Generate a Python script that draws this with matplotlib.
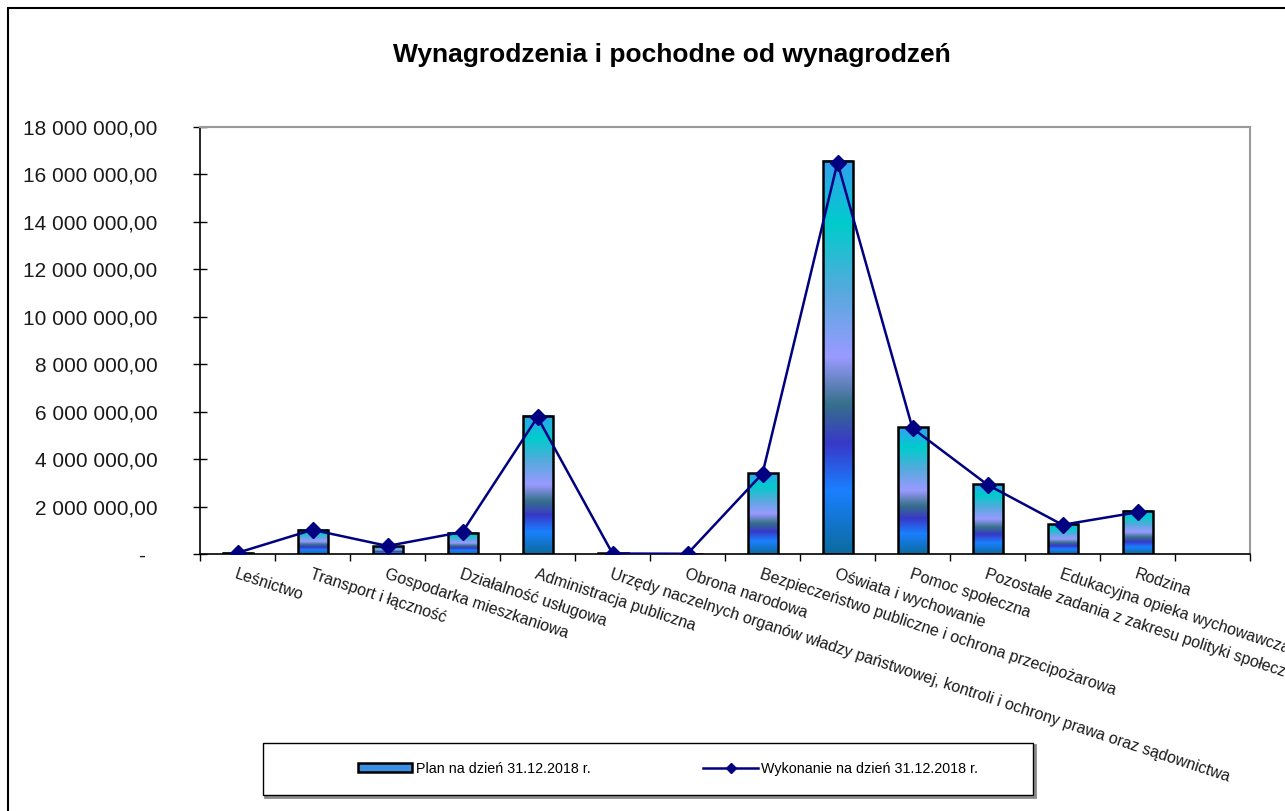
import numpy as np
import matplotlib
matplotlib.use("Agg")
import matplotlib.pyplot as plt
from matplotlib.colors import LinearSegmentedColormap
from matplotlib.patches import Rectangle, Patch
from matplotlib.lines import Line2D

plt.rcParams["font.family"] = ["Liberation Sans", "DejaVu Sans"]

categories = [
    "Leśnictwo",
    "Transport i łączność",
    "Gospodarka mieszkaniowa",
    "Działalność usługowa",
    "Administracja publiczna",
    "Urzędy naczelnych organów władzy państwowej, kontroli i ochrony prawa oraz sądownictwa",
    "Obrona narodowa",
    "Bezpieczeństwo publiczne i ochrona przecipożarowa",
    "Oświata i wychowanie",
    "Pomoc społeczna",
    "Pozostałe zadania z zakresu polityki społecznej",
    "Edukacyjna opieka wychowawcza",
    "Rodzina",
]
plan = [60_000, 1_030_000, 330_000, 900_000, 5_830_000, 30_000, 15_000,
        3_410_000, 16_580_000, 5_350_000, 2_950_000, 1_250_000, 1_820_000]
wykonanie = [50_000, 1_020_000, 340_000, 930_000, 5_770_000, 20_000, 10_000,
             3_390_000, 16_500_000, 5_300_000, 2_920_000, 1_230_000, 1_760_000]
yticks = np.arange(0, 18_000_001, 2_000_000)

title = "Wynagrodzenia i pochodne od wynagrodzeń"
label_plan = "Plan na dzień 31.12.2018 r."
label_wyk = "Wykonanie na dzień 31.12.2018 r."

W, H = 1285, 811
fig = plt.figure(figsize=(W / 100, H / 100), dpi=100)
ax = fig.add_axes([200 / W, 1 - 554 / H, 1050 / W, 427 / H])

# gradient used by Excel style bars (bottom -> top)
grad = LinearSegmentedColormap.from_list("excel", [
    (0.00, "#0B6B9E"), (0.16, "#1A80FF"), (0.28, "#3838C8"),
    (0.38, "#36708A"), (0.50, "#9A9AFF"), (0.67, "#55AADD"),
    (0.84, "#00CCCC"), (1.00, "#33A0F0"),
])
g = np.linspace(0, 1, 256).reshape(-1, 1)

x = np.arange(len(categories))
bars = ax.bar(x, plan, width=0.4, facecolor="none", edgecolor="black",
              linewidth=1.8, zorder=3)
for b in bars:
    x0, y0 = b.get_x(), b.get_y()
    ax.imshow(g, cmap=grad, origin="lower", aspect="auto", zorder=2,
              extent=[x0, x0 + b.get_width(), y0, y0 + b.get_height()])

ax.plot(x, wykonanie, color="#000080", linewidth=1.8, marker="D",
        markersize=8, zorder=4)

ax.set_xlim(-0.5, len(categories) + 0.5)
ax.set_ylim(0, 18_000_000)

# axes styling
for s in ["left", "bottom"]:
    ax.spines[s].set_color("black")
    ax.spines[s].set_linewidth(1.2)
for s in ["top", "right"]:
    ax.spines[s].set_color("#9a9a9a")
    ax.spines[s].set_linewidth(1.5)

def fmt(v):
    if v == 0:
        return "-  "
    return f"{int(v):,}".replace(",", " ") + ",00"

ax.set_yticks(yticks, [fmt(v) for v in yticks])
ax.tick_params(axis="y", direction="inout", length=9.5, width=1, pad=26,
               labelsize=15, labelcolor="#1a1a1a")

ax.set_xticks(np.arange(-0.5, len(categories) + 1, 1))
ax.set_xticklabels([])
ax.tick_params(axis="x", which="major", direction="out", length=5, width=1)
ax.set_xticks(x, categories, minor=True)
ax.tick_params(axis="x", which="minor", length=0, pad=9, labelsize=11.5,
               labelcolor="#1a1a1a")
for lbl in ax.get_xticklabels(minor=True):
    lbl.set_rotation(-18.2)
    lbl.set_ha("left")
    lbl.set_va("top")
    lbl.set_rotation_mode("anchor")

fig.text(672 / W, 1 - 55 / H, title, ha="center", va="center",
         fontsize=19, fontweight="bold")

# outer chart border
fig.add_artist(Rectangle((8 / W, -0.1), 1.2, 1.1 - 8 / H, transform=fig.transFigure,
                         fill=False, edgecolor="black", linewidth=1.5))

# legend box
fig.add_artist(Rectangle((265 / W, 1 - 797 / H), 770 / W, 52 / H,
                         transform=fig.transFigure, fill=False,
                         edgecolor="#8a8a8a", linewidth=2))
fig.add_artist(Rectangle((263 / W, 1 - 795 / H), 770 / W, 52 / H,
                         transform=fig.transFigure, facecolor="white",
                         edgecolor="black", linewidth=1))
handles = [
    Patch(facecolor="#3A8FE0", edgecolor="black", linewidth=1.8),
    Line2D([], [], color="#000080", linewidth=1.8, marker="D", markersize=5),
]
fig.legend(handles, [label_plan, label_wyk], loc="center",
           bbox_to_anchor=(668 / W, 1 - 769 / H), ncol=2, frameon=False,
           fontsize=10.3, handlelength=3.8, handleheight=0.6,
           handletextpad=0.25, columnspacing=7.9)

fig.savefig("out.png", dpi=100)
